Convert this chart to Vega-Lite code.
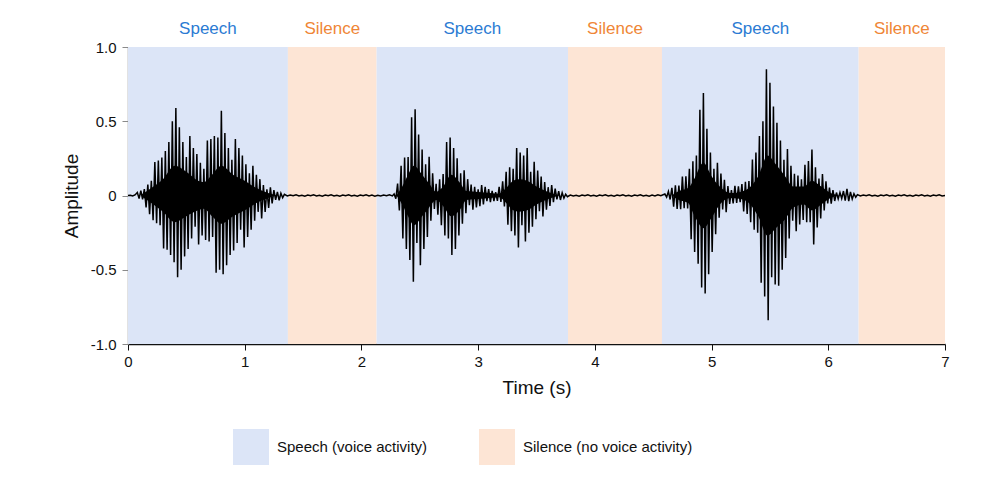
{
  "$schema": "https://vega.github.io/schema/vega-lite/v6.json",
  "description": "Speech waveform with voice activity regions.",
  "width": 817,
  "height": 297,
  "autosize": {"type": "none"},
  "padding": {"left": 128, "top": 47, "right": 55, "bottom": 156},
  "background": "white",
  "datasets": {
    "bands": [
      {"start": 0, "end": 1.37, "name": "Speech", "activity": "Speech (voice activity)"},
      {"start": 1.37, "end": 2.13, "name": "Silence", "activity": "Silence (no voice activity)"},
      {"start": 2.13, "end": 3.77, "name": "Speech", "activity": "Speech (voice activity)"},
      {"start": 3.77, "end": 4.575, "name": "Silence", "activity": "Silence (no voice activity)"},
      {"start": 4.575, "end": 6.26, "name": "Speech", "activity": "Speech (voice activity)"},
      {"start": 6.26, "end": 7, "name": "Silence", "activity": "Silence (no voice activity)"}
    ],
    "core": [
      {"burst": 1, "t": 0.12, "hi": 0.008, "lo": -0.008}, {"burst": 1, "t": 0.2, "hi": 0.05, "lo": -0.05},
      {"burst": 1, "t": 0.3, "hi": 0.11, "lo": -0.11}, {"burst": 1, "t": 0.4, "hi": 0.2, "lo": -0.18},
      {"burst": 1, "t": 0.5, "hi": 0.16, "lo": -0.14}, {"burst": 1, "t": 0.6, "hi": 0.1, "lo": -0.1},
      {"burst": 1, "t": 0.65, "hi": 0.09, "lo": -0.09}, {"burst": 1, "t": 0.72, "hi": 0.14, "lo": -0.14},
      {"burst": 1, "t": 0.8, "hi": 0.2, "lo": -0.19}, {"burst": 1, "t": 0.9, "hi": 0.14, "lo": -0.14},
      {"burst": 1, "t": 1.0, "hi": 0.1, "lo": -0.1}, {"burst": 1, "t": 1.1, "hi": 0.05, "lo": -0.05},
      {"burst": 1, "t": 1.2, "hi": 0.016, "lo": -0.016}, {"burst": 1, "t": 1.28, "hi": 0, "lo": 0},
      {"burst": 2, "t": 2.3, "hi": 0, "lo": 0}, {"burst": 2, "t": 2.35, "hi": 0.06, "lo": -0.06},
      {"burst": 2, "t": 2.4, "hi": 0.14, "lo": -0.14}, {"burst": 2, "t": 2.45, "hi": 0.2, "lo": -0.2},
      {"burst": 2, "t": 2.52, "hi": 0.14, "lo": -0.14}, {"burst": 2, "t": 2.58, "hi": 0.08, "lo": -0.08},
      {"burst": 2, "t": 2.64, "hi": 0.024, "lo": -0.03}, {"burst": 2, "t": 2.7, "hi": 0.06, "lo": -0.07},
      {"burst": 2, "t": 2.77, "hi": 0.14, "lo": -0.14}, {"burst": 2, "t": 2.84, "hi": 0.09, "lo": -0.1},
      {"burst": 2, "t": 2.9, "hi": 0.03, "lo": -0.03}, {"burst": 2, "t": 3.0, "hi": 0.024, "lo": -0.024},
      {"burst": 2, "t": 3.1, "hi": 0.016, "lo": -0.016}, {"burst": 2, "t": 3.18, "hi": 0.012, "lo": -0.012},
      {"burst": 2, "t": 3.24, "hi": 0.05, "lo": -0.05}, {"burst": 2, "t": 3.3, "hi": 0.1, "lo": -0.1},
      {"burst": 2, "t": 3.35, "hi": 0.11, "lo": -0.11}, {"burst": 2, "t": 3.42, "hi": 0.1, "lo": -0.1},
      {"burst": 2, "t": 3.5, "hi": 0.06, "lo": -0.06}, {"burst": 2, "t": 3.6, "hi": 0.024, "lo": -0.024},
      {"burst": 2, "t": 3.7, "hi": 0, "lo": 0},
      {"burst": 3, "t": 4.66, "hi": 0, "lo": 0}, {"burst": 3, "t": 4.72, "hi": 0.03, "lo": -0.03},
      {"burst": 3, "t": 4.8, "hi": 0.05, "lo": -0.05}, {"burst": 3, "t": 4.85, "hi": 0.11, "lo": -0.13},
      {"burst": 3, "t": 4.93, "hi": 0.22, "lo": -0.22}, {"burst": 3, "t": 5.0, "hi": 0.13, "lo": -0.15},
      {"burst": 3, "t": 5.07, "hi": 0.06, "lo": -0.06}, {"burst": 3, "t": 5.16, "hi": 0.016, "lo": -0.016},
      {"burst": 3, "t": 5.25, "hi": 0.024, "lo": -0.024}, {"burst": 3, "t": 5.32, "hi": 0.05, "lo": -0.05},
      {"burst": 3, "t": 5.4, "hi": 0.13, "lo": -0.14}, {"burst": 3, "t": 5.48, "hi": 0.27, "lo": -0.27},
      {"burst": 3, "t": 5.55, "hi": 0.21, "lo": -0.22}, {"burst": 3, "t": 5.63, "hi": 0.13, "lo": -0.16},
      {"burst": 3, "t": 5.7, "hi": 0.06, "lo": -0.08}, {"burst": 3, "t": 5.79, "hi": 0.06, "lo": -0.06},
      {"burst": 3, "t": 5.86, "hi": 0.1, "lo": -0.1}, {"burst": 3, "t": 5.94, "hi": 0.06, "lo": -0.06},
      {"burst": 3, "t": 6.02, "hi": 0.016, "lo": -0.016}, {"burst": 3, "t": 6.1, "hi": 0, "lo": 0}
    ],
    "wave": [
      {"t": 0, "a": 0}, {"t": 0.02, "a": 0.002}, {"t": 0.04, "a": -0.003}, {"t": 0.06, "a": 0.004},
      {"t": 0.080, "a": 0.02}, {"t": 0.095, "a": -0.021}, {"t": 0.110, "a": 0.032}, {"t": 0.125, "a": -0.026},
      {"t": 0.140, "a": 0.043}, {"t": 0.155, "a": -0.08}, {"t": 0.170, "a": 0.074}, {"t": 0.185, "a": -0.126},
      {"t": 0.200, "a": 0.099}, {"t": 0.215, "a": -0.166}, {"t": 0.230, "a": 0.225}, {"t": 0.245, "a": -0.187},
      {"t": 0.260, "a": 0.236}, {"t": 0.275, "a": -0.20}, {"t": 0.290, "a": 0.255}, {"t": 0.305, "a": -0.356},
      {"t": 0.320, "a": 0.30}, {"t": 0.335, "a": -0.366}, {"t": 0.350, "a": 0.36}, {"t": 0.365, "a": -0.40},
      {"t": 0.380, "a": 0.50}, {"t": 0.395, "a": -0.45}, {"t": 0.410, "a": 0.59}, {"t": 0.425, "a": -0.55},
      {"t": 0.440, "a": 0.46}, {"t": 0.455, "a": -0.50}, {"t": 0.470, "a": 0.36}, {"t": 0.485, "a": -0.41},
      {"t": 0.500, "a": 0.26}, {"t": 0.515, "a": -0.36}, {"t": 0.530, "a": 0.40}, {"t": 0.545, "a": -0.29},
      {"t": 0.560, "a": 0.32}, {"t": 0.575, "a": -0.21}, {"t": 0.590, "a": 0.28}, {"t": 0.605, "a": -0.33},
      {"t": 0.620, "a": 0.22}, {"t": 0.635, "a": -0.27}, {"t": 0.650, "a": 0.18}, {"t": 0.665, "a": -0.30},
      {"t": 0.680, "a": 0.37}, {"t": 0.695, "a": -0.31}, {"t": 0.710, "a": 0.38}, {"t": 0.725, "a": -0.28},
      {"t": 0.740, "a": 0.40}, {"t": 0.755, "a": -0.52}, {"t": 0.770, "a": 0.39}, {"t": 0.785, "a": -0.50},
      {"t": 0.800, "a": 0.57}, {"t": 0.815, "a": -0.53}, {"t": 0.830, "a": 0.42}, {"t": 0.845, "a": -0.47},
      {"t": 0.860, "a": 0.32}, {"t": 0.875, "a": -0.40}, {"t": 0.890, "a": 0.24}, {"t": 0.905, "a": -0.37},
      {"t": 0.920, "a": 0.38}, {"t": 0.935, "a": -0.32}, {"t": 0.950, "a": 0.32}, {"t": 0.965, "a": -0.23},
      {"t": 0.980, "a": 0.27}, {"t": 0.995, "a": -0.35}, {"t": 1.010, "a": 0.21}, {"t": 1.025, "a": -0.28},
      {"t": 1.040, "a": 0.15}, {"t": 1.055, "a": -0.23}, {"t": 1.070, "a": 0.20}, {"t": 1.085, "a": -0.17},
      {"t": 1.100, "a": 0.14}, {"t": 1.115, "a": -0.11}, {"t": 1.130, "a": 0.11}, {"t": 1.145, "a": -0.155},
      {"t": 1.160, "a": 0.07}, {"t": 1.175, "a": -0.11}, {"t": 1.190, "a": 0.042}, {"t": 1.205, "a": -0.084},
      {"t": 1.220, "a": 0.055}, {"t": 1.235, "a": -0.054}, {"t": 1.250, "a": 0.036}, {"t": 1.265, "a": -0.029},
      {"t": 1.280, "a": 0.025}, {"t": 1.295, "a": -0.032}, {"t": 1.310, "a": 0.015}, {"t": 1.325, "a": -0.015},
      {"t": 1.340, "a": 0.008},
      {"t": 1.365, "a": -0.003}, {"t": 1.39, "a": 0.003}, {"t": 1.415, "a": -0.002}, {"t": 1.44, "a": 0.004},
      {"t": 1.465, "a": -0.003}, {"t": 1.49, "a": 0.002}, {"t": 1.515, "a": -0.004}, {"t": 1.54, "a": 0.003},
      {"t": 1.565, "a": -0.002}, {"t": 1.59, "a": 0.004}, {"t": 1.615, "a": -0.003}, {"t": 1.64, "a": 0.002},
      {"t": 1.665, "a": -0.004}, {"t": 1.69, "a": 0.003}, {"t": 1.715, "a": -0.002}, {"t": 1.74, "a": 0.004},
      {"t": 1.765, "a": -0.003}, {"t": 1.79, "a": 0.002}, {"t": 1.815, "a": -0.004}, {"t": 1.84, "a": 0.003},
      {"t": 1.865, "a": -0.002}, {"t": 1.89, "a": 0.004}, {"t": 1.915, "a": -0.003}, {"t": 1.94, "a": 0.002},
      {"t": 1.965, "a": -0.004}, {"t": 1.99, "a": 0.003}, {"t": 2.015, "a": -0.002}, {"t": 2.04, "a": 0.004},
      {"t": 2.065, "a": -0.003}, {"t": 2.09, "a": 0.003}, {"t": 2.115, "a": -0.004}, {"t": 2.14, "a": 0.002},
      {"t": 2.165, "a": -0.003}, {"t": 2.19, "a": 0.003}, {"t": 2.215, "a": -0.002}, {"t": 2.24, "a": 0.004},
      {"t": 2.265, "a": -0.003},
      {"t": 2.280, "a": 0.01}, {"t": 2.295, "a": -0.022}, {"t": 2.310, "a": 0.08}, {"t": 2.325, "a": -0.10},
      {"t": 2.340, "a": 0.20}, {"t": 2.355, "a": -0.29}, {"t": 2.370, "a": 0.255}, {"t": 2.385, "a": -0.36},
      {"t": 2.400, "a": 0.26}, {"t": 2.415, "a": -0.435}, {"t": 2.430, "a": 0.527}, {"t": 2.445, "a": -0.58},
      {"t": 2.460, "a": 0.58}, {"t": 2.475, "a": -0.32}, {"t": 2.490, "a": 0.41}, {"t": 2.505, "a": -0.47},
      {"t": 2.520, "a": 0.31}, {"t": 2.535, "a": -0.36}, {"t": 2.550, "a": 0.21}, {"t": 2.565, "a": -0.28},
      {"t": 2.580, "a": 0.26}, {"t": 2.595, "a": -0.17}, {"t": 2.610, "a": 0.15}, {"t": 2.625, "a": -0.09},
      {"t": 2.640, "a": 0.078}, {"t": 2.655, "a": -0.13}, {"t": 2.670, "a": 0.11}, {"t": 2.685, "a": -0.20},
      {"t": 2.700, "a": 0.144}, {"t": 2.715, "a": -0.27}, {"t": 2.730, "a": 0.36}, {"t": 2.745, "a": -0.29},
      {"t": 2.760, "a": 0.39}, {"t": 2.775, "a": -0.40}, {"t": 2.790, "a": 0.32}, {"t": 2.805, "a": -0.36},
      {"t": 2.820, "a": 0.25}, {"t": 2.835, "a": -0.27}, {"t": 2.850, "a": 0.15}, {"t": 2.865, "a": -0.19},
      {"t": 2.880, "a": 0.17}, {"t": 2.895, "a": -0.12}, {"t": 2.910, "a": 0.11}, {"t": 2.925, "a": -0.066},
      {"t": 2.940, "a": 0.074}, {"t": 2.955, "a": -0.096}, {"t": 2.970, "a": 0.058}, {"t": 2.985, "a": -0.081},
      {"t": 3.000, "a": 0.042}, {"t": 3.015, "a": -0.072}, {"t": 3.030, "a": 0.07}, {"t": 3.045, "a": -0.06},
      {"t": 3.060, "a": 0.059}, {"t": 3.075, "a": -0.038}, {"t": 3.090, "a": 0.043}, {"t": 3.105, "a": -0.045},
      {"t": 3.120, "a": 0.031}, {"t": 3.135, "a": -0.038}, {"t": 3.150, "a": 0.022}, {"t": 3.165, "a": -0.036},
      {"t": 3.180, "a": 0.058}, {"t": 3.195, "a": -0.043}, {"t": 3.210, "a": 0.096}, {"t": 3.225, "a": -0.073},
      {"t": 3.240, "a": 0.159}, {"t": 3.255, "a": -0.197}, {"t": 3.270, "a": 0.19}, {"t": 3.285, "a": -0.24},
      {"t": 3.300, "a": 0.18}, {"t": 3.315, "a": -0.27}, {"t": 3.330, "a": 0.32}, {"t": 3.345, "a": -0.35},
      {"t": 3.360, "a": 0.29}, {"t": 3.375, "a": -0.20}, {"t": 3.390, "a": 0.27}, {"t": 3.405, "a": -0.31},
      {"t": 3.420, "a": 0.32}, {"t": 3.435, "a": -0.25}, {"t": 3.450, "a": 0.16}, {"t": 3.465, "a": -0.21},
      {"t": 3.480, "a": 0.227}, {"t": 3.495, "a": -0.16}, {"t": 3.510, "a": 0.168}, {"t": 3.525, "a": -0.105},
      {"t": 3.540, "a": 0.128}, {"t": 3.555, "a": -0.141}, {"t": 3.570, "a": 0.09}, {"t": 3.585, "a": -0.095},
      {"t": 3.600, "a": 0.056}, {"t": 3.615, "a": -0.07}, {"t": 3.630, "a": 0.071}, {"t": 3.645, "a": -0.045},
      {"t": 3.660, "a": 0.047}, {"t": 3.675, "a": -0.026}, {"t": 3.690, "a": 0.03}, {"t": 3.705, "a": -0.03},
      {"t": 3.720, "a": 0.018}, {"t": 3.735, "a": -0.018}, {"t": 3.750, "a": 0.008}, {"t": 3.765, "a": -0.008},
      {"t": 3.79, "a": 0.003}, {"t": 3.815, "a": -0.003}, {"t": 3.84, "a": 0.002}, {"t": 3.865, "a": -0.004},
      {"t": 3.89, "a": 0.003}, {"t": 3.915, "a": -0.002}, {"t": 3.94, "a": 0.004}, {"t": 3.965, "a": -0.003},
      {"t": 3.99, "a": 0.002}, {"t": 4.015, "a": -0.004}, {"t": 4.04, "a": 0.003}, {"t": 4.065, "a": -0.002},
      {"t": 4.09, "a": 0.004}, {"t": 4.115, "a": -0.003}, {"t": 4.14, "a": 0.002}, {"t": 4.165, "a": -0.004},
      {"t": 4.19, "a": 0.003}, {"t": 4.215, "a": -0.002}, {"t": 4.24, "a": 0.004}, {"t": 4.265, "a": -0.003},
      {"t": 4.29, "a": 0.002}, {"t": 4.315, "a": -0.004}, {"t": 4.34, "a": 0.003}, {"t": 4.365, "a": -0.002},
      {"t": 4.39, "a": 0.004}, {"t": 4.415, "a": -0.003}, {"t": 4.44, "a": 0.002}, {"t": 4.465, "a": -0.004},
      {"t": 4.49, "a": 0.003}, {"t": 4.515, "a": -0.003}, {"t": 4.54, "a": 0.004}, {"t": 4.565, "a": -0.002},
      {"t": 4.600, "a": 0.01}, {"t": 4.615, "a": -0.011}, {"t": 4.630, "a": 0.027}, {"t": 4.645, "a": -0.027},
      {"t": 4.660, "a": 0.051}, {"t": 4.675, "a": -0.075}, {"t": 4.690, "a": 0.068}, {"t": 4.705, "a": -0.09},
      {"t": 4.720, "a": 0.067}, {"t": 4.735, "a": -0.092}, {"t": 4.750, "a": 0.128}, {"t": 4.765, "a": -0.086},
      {"t": 4.780, "a": 0.13}, {"t": 4.795, "a": -0.087}, {"t": 4.810, "a": 0.18}, {"t": 4.825, "a": -0.295},
      {"t": 4.840, "a": 0.23}, {"t": 4.855, "a": -0.38}, {"t": 4.870, "a": 0.27}, {"t": 4.885, "a": -0.46},
      {"t": 4.900, "a": 0.578}, {"t": 4.915, "a": -0.62}, {"t": 4.930, "a": 0.69}, {"t": 4.945, "a": -0.66},
      {"t": 4.960, "a": 0.45}, {"t": 4.975, "a": -0.53}, {"t": 4.990, "a": 0.29}, {"t": 5.005, "a": -0.38},
      {"t": 5.020, "a": 0.18}, {"t": 5.035, "a": -0.26}, {"t": 5.050, "a": 0.22}, {"t": 5.065, "a": -0.15},
      {"t": 5.080, "a": 0.148}, {"t": 5.095, "a": -0.094}, {"t": 5.110, "a": 0.106}, {"t": 5.125, "a": -0.112},
      {"t": 5.140, "a": 0.064}, {"t": 5.155, "a": -0.056}, {"t": 5.170, "a": 0.037}, {"t": 5.185, "a": -0.054},
      {"t": 5.200, "a": 0.065}, {"t": 5.215, "a": -0.05}, {"t": 5.230, "a": 0.062}, {"t": 5.245, "a": -0.045},
      {"t": 5.260, "a": 0.077}, {"t": 5.275, "a": -0.107}, {"t": 5.290, "a": 0.092}, {"t": 5.305, "a": -0.125},
      {"t": 5.320, "a": 0.098}, {"t": 5.335, "a": -0.18}, {"t": 5.350, "a": 0.243}, {"t": 5.365, "a": -0.23},
      {"t": 5.380, "a": 0.29}, {"t": 5.395, "a": -0.25}, {"t": 5.410, "a": 0.40}, {"t": 5.425, "a": -0.587},
      {"t": 5.440, "a": 0.50}, {"t": 5.455, "a": -0.68}, {"t": 5.470, "a": 0.85}, {"t": 5.485, "a": -0.84},
      {"t": 5.500, "a": 0.76}, {"t": 5.515, "a": -0.55}, {"t": 5.530, "a": 0.60}, {"t": 5.545, "a": -0.60},
      {"t": 5.560, "a": 0.49}, {"t": 5.575, "a": -0.607}, {"t": 5.590, "a": 0.37}, {"t": 5.605, "a": -0.50},
      {"t": 5.620, "a": 0.24}, {"t": 5.635, "a": -0.42}, {"t": 5.650, "a": 0.313}, {"t": 5.665, "a": -0.29},
      {"t": 5.680, "a": 0.20}, {"t": 5.695, "a": -0.17}, {"t": 5.710, "a": 0.146}, {"t": 5.725, "a": -0.24},
      {"t": 5.740, "a": 0.135}, {"t": 5.755, "a": -0.195}, {"t": 5.770, "a": 0.11}, {"t": 5.785, "a": -0.165},
      {"t": 5.800, "a": 0.207}, {"t": 5.815, "a": -0.18}, {"t": 5.830, "a": 0.233}, {"t": 5.845, "a": -0.18},
      {"t": 5.860, "a": 0.31}, {"t": 5.875, "a": -0.33}, {"t": 5.890, "a": 0.19}, {"t": 5.905, "a": -0.216},
      {"t": 5.920, "a": 0.114}, {"t": 5.935, "a": -0.155}, {"t": 5.950, "a": 0.144}, {"t": 5.965, "a": -0.10},
      {"t": 5.980, "a": 0.095}, {"t": 5.995, "a": -0.054}, {"t": 6.010, "a": 0.054}, {"t": 6.025, "a": -0.055},
      {"t": 6.040, "a": 0.036}, {"t": 6.055, "a": -0.037}, {"t": 6.070, "a": 0.02}, {"t": 6.085, "a": -0.023},
      {"t": 6.100, "a": 0.02}, {"t": 6.115, "a": -0.02}, {"t": 6.130, "a": 0.03}, {"t": 6.145, "a": -0.035},
      {"t": 6.160, "a": 0.045}, {"t": 6.175, "a": -0.038}, {"t": 6.190, "a": 0.024}, {"t": 6.205, "a": -0.024},
      {"t": 6.220, "a": 0.012}, {"t": 6.235, "a": -0.012}, {"t": 6.250, "a": 0.006},
      {"t": 6.275, "a": -0.003}, {"t": 6.3, "a": 0.003}, {"t": 6.325, "a": -0.002}, {"t": 6.35, "a": 0.004},
      {"t": 6.375, "a": -0.003}, {"t": 6.4, "a": 0.002}, {"t": 6.425, "a": -0.004}, {"t": 6.45, "a": 0.003},
      {"t": 6.475, "a": -0.002}, {"t": 6.5, "a": 0.004}, {"t": 6.525, "a": -0.003}, {"t": 6.55, "a": 0.002},
      {"t": 6.575, "a": -0.004}, {"t": 6.6, "a": 0.003}, {"t": 6.625, "a": -0.002}, {"t": 6.65, "a": 0.004},
      {"t": 6.675, "a": -0.003}, {"t": 6.7, "a": 0.002}, {"t": 6.725, "a": -0.004}, {"t": 6.75, "a": 0.003},
      {"t": 6.775, "a": -0.002}, {"t": 6.8, "a": 0.004}, {"t": 6.825, "a": -0.003}, {"t": 6.85, "a": 0.002},
      {"t": 6.875, "a": -0.004}, {"t": 6.9, "a": 0.003}, {"t": 6.925, "a": -0.002}, {"t": 6.95, "a": 0.004},
      {"t": 6.975, "a": -0.003}, {"t": 7.0, "a": 0}
    ]
  },
  "layer": [
    {
      "data": {"name": "bands"},
      "mark": {"type": "rect"},
      "encoding": {
        "x": {
          "field": "start",
          "type": "quantitative",
          "title": "Time (s)",
          "scale": {"domain": [0, 7], "nice": false, "zero": false},
          "axis": {
            "title": "Time (s)",
            "values": [0, 1, 2, 3, 4, 5, 6, 7],
            "format": "d",
            "grid": false,
            "labelFlush": false,
            "domainColor": "#111111",
            "tickColor": "#111111",
            "tickSize": 6,
            "labelPadding": 4,
            "titlePadding": 9
          }
        },
        "x2": {"field": "end"},
        "color": {
          "field": "activity",
          "type": "nominal",
          "scale": {
            "domain": ["Speech (voice activity)", "Silence (no voice activity)"],
            "range": ["#dce5f7", "#fde5d5"]
          },
          "legend": {
            "title": null,
            "orient": "none",
            "legendX": 105,
            "legendY": 382,
            "direction": "horizontal",
            "symbolType": "square",
            "symbolSize": 1296,
            "symbolStrokeWidth": 0,
            "labelOffset": 8,
            "labelLimit": 400,
            "columnPadding": 51,
            "padding": 0
          }
        }
      }
    },
    {
      "data": {"name": "bands"},
      "transform": [{"calculate": "(datum.start + datum.end) / 2", "as": "mid"}],
      "mark": {"type": "text", "dy": -18, "fontSize": 17, "font": "Liberation Sans", "baseline": "middle"},
      "encoding": {
        "x": {"field": "mid", "type": "quantitative", "title": "Time (s)"},
        "y": {"datum": 1, "type": "quantitative", "title": "Amplitude"},
        "text": {"field": "name"},
        "color": {
          "condition": {"test": "datum.name === 'Speech'", "value": "#2b7bd3"},
          "value": "#ef8636"
        }
      }
    },
    {
      "data": {"name": "core"},
      "mark": {"type": "area", "color": "#000000", "interpolate": "monotone"},
      "encoding": {
        "x": {"field": "t", "type": "quantitative", "title": "Time (s)"},
        "y": {"field": "hi", "type": "quantitative", "title": "Amplitude"},
        "y2": {"field": "lo"},
        "detail": {"field": "burst", "type": "nominal"}
      }
    },
    {
      "data": {"name": "wave"},
      "mark": {"type": "line", "color": "#000000", "strokeWidth": 1.5, "interpolate": "linear"},
      "encoding": {
        "x": {"field": "t", "type": "quantitative", "title": "Time (s)"},
        "y": {
          "field": "a",
          "type": "quantitative",
          "title": "Amplitude",
          "scale": {"domain": [-1, 1], "nice": false},
          "axis": {
            "title": "Amplitude",
            "values": [-1, -0.5, 0, 0.5, 1],
            "labelExpr": "datum.value === 0 ? '0' : replace(format(datum.value, '.1f'), '\u2212', '-')",
            "grid": false,
            "labelFlush": false,
            "domainColor": "#8a8a8a",
            "tickColor": "#8a8a8a",
            "tickSize": 6,
            "labelPadding": 6,
            "titlePadding": 9
          }
        }
      }
    }
  ],
  "config": {
    "view": {"stroke": null},
    "font": "Liberation Sans",
    "axis": {
      "labelFont": "Liberation Sans",
      "titleFont": "Liberation Sans",
      "labelFontSize": 15,
      "titleFontSize": 19,
      "titleFontWeight": "normal",
      "labelColor": "#111111",
      "titleColor": "#111111",
      "domainWidth": 1.5
    },
    "legend": {
      "labelFont": "Liberation Sans",
      "labelFontSize": 15,
      "labelColor": "#111111"
    }
  }
}
